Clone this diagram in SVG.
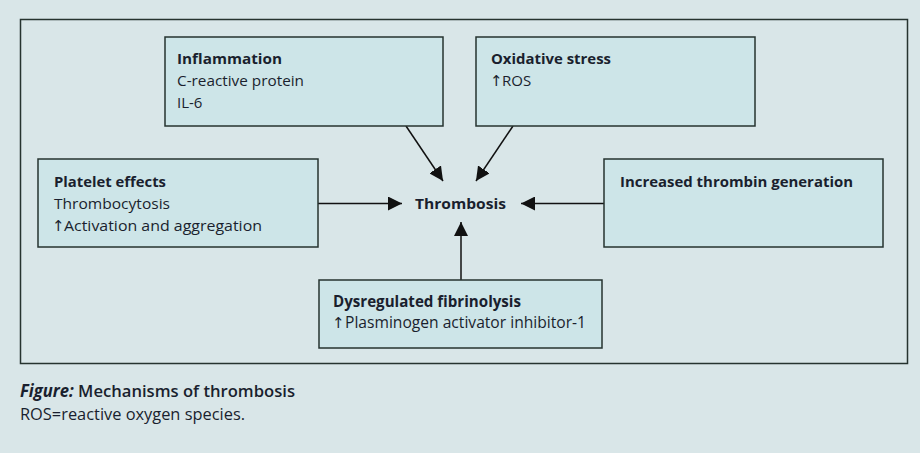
<svg xmlns="http://www.w3.org/2000/svg" width="920" height="453" viewBox="0 0 920 453">
<defs>
<marker id="ah" viewBox="0 0 10 10" refX="10" refY="5" markerWidth="14" markerHeight="14" markerUnits="userSpaceOnUse" orient="auto">
<path d="M0,0 L10,5 L0,10 z" fill="#111"/>
</marker>
<style>
.box{fill:#cde5e8;stroke:#26332f;stroke-width:1.5}
.t{font-family:"Open Sans","Noto Sans",sans-serif;font-size:15px;fill:#1a1f2e}
.b{font-weight:bold}
.sb{font-weight:600}
.l{font-size:16px}
.cap{font-size:17px}
.up{font-family:"DejaVu Sans",sans-serif;font-size:15px;fill:#1a1f2e}
.c{stroke:#111;stroke-width:1.5;fill:none;marker-end:url(#ah)}
</style>
</defs>
<rect width="920" height="453" fill="#d9e6e8"/>
<rect x="20.5" y="19.5" width="887" height="344" fill="none" stroke="#26332f" stroke-width="1.5"/>
<g id="connectors">
<line class="c" x1="406" y1="126" x2="443" y2="181"/>
<line class="c" x1="513" y1="126" x2="476" y2="181"/>
<line class="c" x1="318" y1="203.5" x2="402" y2="203.5"/>
<line class="c" x1="604" y1="203.5" x2="521" y2="203.5"/>
<line class="c" x1="461" y1="280" x2="461" y2="222"/>
</g>
<g id="inflammation">
<rect class="box" x="165" y="37" width="278" height="89"/>
<text class="t b" x="177" y="64" textLength="105" lengthAdjust="spacingAndGlyphs">Inflammation</text>
<text class="t" x="177" y="86" textLength="127" lengthAdjust="spacingAndGlyphs">C-reactive protein</text>
<text class="t" x="177" y="108">IL-6</text>
</g>
<g id="oxidative">
<rect class="box" x="476" y="37" width="279" height="89"/>
<text class="t b" x="491" y="64" textLength="120" lengthAdjust="spacingAndGlyphs">Oxidative stress</text>
<text class="up" x="490" y="86">↑</text>
<text class="t" x="502" y="86">ROS</text>
</g>
<g id="platelet">
<rect class="box" x="38" y="159" width="280" height="88"/>
<text class="t b" x="54" y="187" textLength="112" lengthAdjust="spacingAndGlyphs">Platelet effects</text>
<text class="t" x="54" y="209" textLength="116" lengthAdjust="spacingAndGlyphs">Thrombocytosis</text>
<text class="up" x="52" y="231">↑</text>
<text class="t" x="64" y="231" textLength="198" lengthAdjust="spacingAndGlyphs">Activation and aggregation</text>
</g>
<g id="thrombin">
<rect class="box" x="604" y="159" width="279" height="88"/>
<text class="t b" x="620" y="187" textLength="233" lengthAdjust="spacingAndGlyphs">Increased thrombin generation</text>
</g>
<g id="thrombosis">
<text class="t b" x="415" y="209" textLength="91" lengthAdjust="spacingAndGlyphs">Thrombosis</text>
</g>
<g id="fibrinolysis">
<rect class="box" x="319" y="280" width="283" height="68"/>
<text class="t b l" x="333" y="307" textLength="188" lengthAdjust="spacingAndGlyphs">Dysregulated fibrinolysis</text>
<text class="up" x="332" y="328">↑</text>
<text class="t l" x="345" y="328" textLength="241" lengthAdjust="spacingAndGlyphs">Plasminogen activator inhibitor-1</text>
</g>
<g id="caption">
<text class="t cap sb" x="20" y="397" textLength="275" lengthAdjust="spacingAndGlyphs"><tspan font-style="italic" font-weight="bold">Figure:</tspan> Mechanisms of thrombosis</text>
<text class="t cap" x="20" y="420" textLength="225" lengthAdjust="spacingAndGlyphs">ROS=reactive oxygen species.</text>
</g>
</svg>
